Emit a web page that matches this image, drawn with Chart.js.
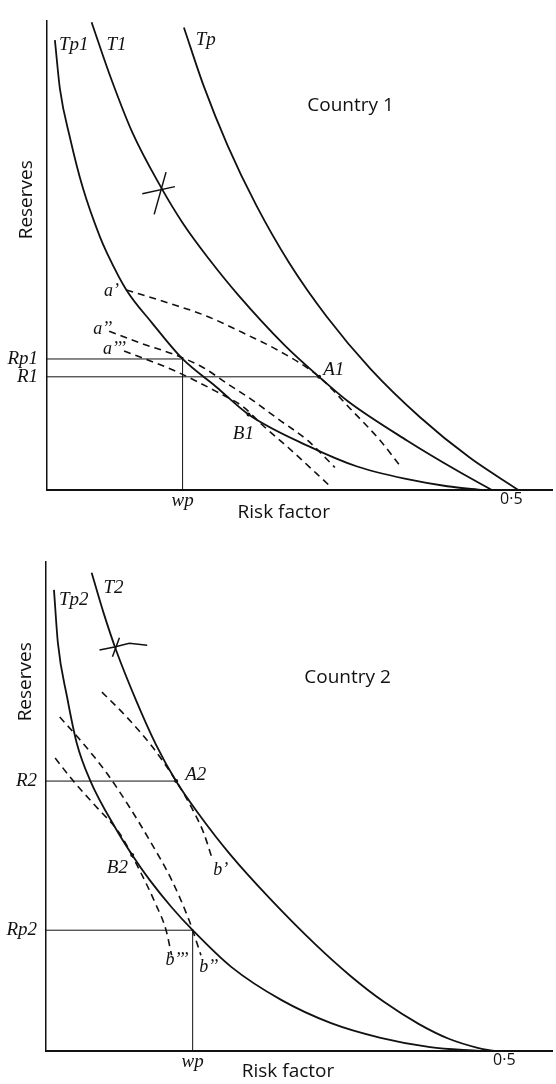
<!DOCTYPE html>
<html>
<head>
<meta charset="utf-8">
<script src="https://cdn.jsdelivr.net/npm/chart.js@4.4.0/dist/chart.umd.min.js"></script>
<style>
  html, body { margin: 0; padding: 0; background: #fff; }
  canvas { position: absolute; left: 0; }
  #country1 { top: 0; }
  #country2 { top: 540px; }
</style>
</head>
<body>
<canvas id="country1" width="556" height="540" style="width:556px;height:540px"></canvas>
<canvas id="country2" width="556" height="544" style="width:556px;height:544px"></canvas>
<script>
// ---- Country 1 (risk factor on x, reserves on y, arbitrary 0-100) ----
const c1TpX  = [0.1474, 0.1688, 0.1944, 0.2254, 0.2607, 0.3013, 0.3483, 0.4017, 0.4551, 0.5075];
const c1TpY  = [98.5, 86.0, 73.4, 60.6, 48.4, 36.9, 25.8, 15.5, 6.9, 0];
const c1T1X  = [0.048, 0.067, 0.092, 0.123, 0.147, 0.174, 0.206, 0.256, 0.293, 0.324, 0.388, 0.441, 0.479];
const c1T1Y  = [99.6, 88.7, 76.1, 64.4, 56.6, 49.3, 41.5, 30.8, 24.1, 18.9, 10.5, 4.2, 0];
const c1Tp1X = [0.0085, 0.014, 0.025, 0.0385, 0.057, 0.065, 0.0855, 0.113, 0.146, 0.182, 0.217, 0.281, 0.334, 0.388, 0.431, 0.470];
const c1Tp1Y = [95.8, 85.3, 74.8, 64.4, 53.9, 50.3, 42.6, 35.6, 27.9, 22.0, 16.1, 9.4, 5.0, 2.3, 0.8, 0];
const c1aX   = [0.0855, 0.131, 0.171, 0.217, 0.252, 0.293, 0.329, 0.359, 0.380];
const c1aY   = [42.6, 39.8, 37.1, 32.9, 29.4, 24.1, 16.8, 10.5, 5.2];
const c1a2X  = [0.067, 0.099, 0.139, 0.167, 0.196, 0.220, 0.249, 0.281, 0.310];
const c1a2Y  = [33.8, 31.4, 28.7, 26.2, 22.4, 19.3, 15.1, 10.5, 4.8];
const c1a3X  = [0.083, 0.135, 0.182, 0.212, 0.231, 0.260, 0.306];
const c1a3Y  = [29.6, 25.6, 21.0, 17.6, 14.0, 9.0, 0.6];
const c1Wp = 0.146, c1Rp = 27.9, c1R = 24.1;
const c1A = [0.293, 24.1], c1B = [0.217, 16.1];
const c1CrossX = [[0.1026, 0.1378], [0.1282, 0.1154]];
const c1CrossY = [[63.1, 64.6], [67.7, 58.7]];

// ---- Country 2 ----
const c2T2X  = [0.0498, 0.0628, 0.0768, 0.0985, 0.1201, 0.1418, 0.1688, 0.2013, 0.2446, 0.2933, 0.3312, 0.3690, 0.4069, 0.4394, 0.4719, 0.4892];
const c2T2Y  = [97.8, 89.6, 81.8, 71.6, 62.6, 55.2, 47.9, 40.1, 31.1, 21.9, 15.5, 10.0, 5.5, 2.5, 0.6, 0];
const c2Tp2X = [0.0087, 0.013, 0.023, 0.0335, 0.048, 0.077, 0.094, 0.113, 0.137, 0.160, 0.202, 0.257, 0.311, 0.365, 0.419, 0.473];
const c2Tp2Y = [94.3, 83.4, 72.4, 63.0, 55.4, 45.2, 40.1, 35.0, 29.4, 24.7, 17.2, 10.4, 5.7, 2.7, 0.8, 0];
const c2bX   = [0.061, 0.088, 0.116, 0.142, 0.159, 0.172, 0.181];
const c2bY   = [73.4, 68.3, 62.2, 55.2, 49.7, 44.6, 39.5];
const c2b2X  = [0.015, 0.040, 0.066, 0.091, 0.113, 0.137, 0.156, 0.160, 0.169];
const c2b2Y  = [68.3, 63.0, 56.9, 49.9, 43.1, 35.0, 26.8, 24.7, 19.6];
const c2b3X  = [0.010, 0.029, 0.055, 0.080, 0.102, 0.120, 0.131, 0.137];
const c2b3Y  = [59.9, 55.4, 49.9, 44.6, 37.0, 29.9, 24.7, 19.6];
const c2Wp = 0.160, c2Rp = 24.7, c2R = 55.2;
const c2A = [0.142, 55.2], c2B = [0.094, 40.1];
const c2CrossX = [[0.0584, 0.0747, 0.0909, 0.1104], [0.0801, 0.0725]];
const c2CrossY = [[82.0, 82.6, 83.4, 83.0], [84.5, 80.6]];

const INK = '#111';
const SERIF = '"Liberation Serif", serif';
const SANS = '"Open Sans", sans-serif';

const pts = (xs, ys) => xs.map((x, i) => ({ x: x, y: ys[i] }));

const curve = (xs, ys, dashed) => ({
    data: pts(xs, ys),
    showLine: true,
    borderColor: INK,
    borderWidth: dashed ? 1.6 : 1.8,
    borderDash: dashed ? [7, 5] : [],
    pointRadius: 0,
    cubicInterpolationMode: 'monotone',
    clip: 4
});

const guide = (xs, ys, w) => ({
    data: pts(xs, ys),
    showLine: true,
    borderColor: INK,
    borderWidth: w || 1,
    pointRadius: 0,
    tension: 0
});

const dots = (list) => ({
    data: list.map(p => ({ x: p[0], y: p[1] })),
    showLine: false, pointRadius: 2, pointBackgroundColor: INK, pointBorderWidth: 0
});

// text labels drawn through the chart's own scales
const notesPlugin = {
    id: 'notes',
    afterDraw(chart, args, opts) {
        const ctx = chart.ctx, xs = chart.scales.x, ys = chart.scales.y, area = chart.chartArea;
        ctx.save();
        ctx.fillStyle = INK;
        ctx.textBaseline = 'middle';
        ctx.textAlign = 'center';
        opts.items.forEach(n => {
            ctx.font = n.font;
            ctx.fillText(n.text, xs.getPixelForValue(n.x), ys.getPixelForValue(n.y));
        });
        // axis titles
        ctx.font = '19px ' + SANS;
        ctx.fillText('Risk factor', xs.getPixelForValue(opts.xTitleAt), area.bottom + opts.xTitleGap);
        ctx.translate(area.left - 20, ys.getPixelForValue(opts.yTitleAt));
        ctx.rotate(-Math.PI / 2);
        ctx.fillText('Reserves', 0, 0);
        ctx.restore();
    }
};

function makeChart(id, o) {
    return new Chart(document.getElementById(id), {
        type: 'scatter',
        data: { datasets: o.datasets },
        plugins: [notesPlugin],
        options: {
            responsive: false,
            animation: false,
            layout: { padding: { top: o.top, left: 0, right: 0, bottom: 0 } },
            plugins: {
                legend: { display: false },
                tooltip: { enabled: false },
                notes: { items: o.notes, xTitleAt: o.xTitleAt, xTitleGap: o.xTitleGap, yTitleAt: o.yTitleAt }
            },
            scales: {
                x: {
                    type: 'linear', min: 0, max: o.xMax,
                    grid: { display: false, drawTicks: false },
                    border: { color: INK, width: 2 },
                    afterBuildTicks: s => { s.ticks = [{ value: o.wp }, { value: 0.5 }]; },
                    afterFit: s => { s.height = o.xHeight; },
                    ticks: {
                        autoSkip: false, maxRotation: 0, padding: 0, color: INK,
                        callback: v => (v === 0.5 ? '0·5' : 'wp'),
                        font: c => (c.tick && c.tick.value === 0.5)
                            ? { family: SANS, size: 16 }
                            : { family: SERIF, size: 19, style: 'italic' }
                    }
                },
                y: {
                    type: 'linear', min: 0, max: 100,
                    grid: { display: false, drawTicks: false },
                    border: { color: INK, width: 1.5 },
                    afterBuildTicks: s => { s.ticks = [{ value: o.r }, { value: o.rp }]; },
                    afterFit: s => { s.width = o.yWidth; },
                    ticks: {
                        autoSkip: false, padding: 9, color: INK,
                        callback: v => (v === o.r ? o.rLabel : o.rpLabel),
                        font: { family: SERIF, size: 19, style: 'italic' }
                    }
                }
            }
        }
    });
}

const lbl = 'italic 19px ' + SERIF, small = 'italic 18px ' + SERIF;

makeChart('country1', {
    top: 13, xHeight: 50, yWidth: 47, xMax: 0.5438,
    wp: c1Wp, r: c1R, rp: c1Rp, rLabel: 'R1', rpLabel: 'Rp1',
    xTitleAt: 0.255, xTitleGap: 23, yTitleAt: 61.8,
    datasets: [
        curve(c1TpX, c1TpY), curve(c1T1X, c1T1Y), curve(c1Tp1X, c1Tp1Y),
        curve(c1aX, c1aY, true), curve(c1a2X, c1a2Y, true), curve(c1a3X, c1a3Y, true),
        guide([0, c1Wp], [c1Rp, c1Rp]), guide([c1Wp, c1Wp], [0, c1Rp]), guide([0, c1A[0]], [c1R, c1R]),
        guide(c1CrossX[0], c1CrossY[0], 1.5), guide(c1CrossX[1], c1CrossY[1], 1.5),
        dots([c1A, c1B])
    ],
    notes: [
        { text: 'Tp1', x: 0.0288, y: 94.8, font: lbl },
        { text: 'T1', x: 0.0748, y: 94.8, font: lbl },
        { text: 'Tp', x: 0.1709, y: 95.8, font: lbl },
        { text: 'Country 1', x: 0.3269, y: 81.8, font: '19px ' + SANS },
        { text: 'a’', x: 0.0694, y: 42.3, font: small },
        { text: 'a’’', x: 0.0601, y: 34.2, font: small },
        { text: 'a’’’', x: 0.0726, y: 30.0, font: small },
        { text: 'A1', x: 0.3088, y: 25.6, font: lbl },
        { text: 'B1', x: 0.2115, y: 11.9, font: lbl }
    ]
});

makeChart('country2', {
    top: 22, xHeight: 33, yWidth: 46, xMax: 0.552,
    wp: c2Wp, r: c2R, rp: c2Rp, rLabel: 'R2', rpLabel: 'Rp2',
    xTitleAt: 0.264, xTitleGap: 21, yTitleAt: 75.5,
    datasets: [
        curve(c2T2X, c2T2Y), curve(c2Tp2X, c2Tp2Y),
        curve(c2bX, c2bY, true), curve(c2b2X, c2b2Y, true), curve(c2b3X, c2b3Y, true),
        guide([0, c2A[0]], [c2R, c2R]), guide([0, c2Wp], [c2Rp, c2Rp]), guide([c2Wp, c2Wp], [0, c2Rp]),
        guide(c2CrossX[0], c2CrossY[0], 1.5), guide(c2CrossX[1], c2CrossY[1], 1.5),
        dots([c2A, c2B])
    ],
    notes: [
        { text: 'Tp2', x: 0.0303, y: 92.2, font: lbl },
        { text: 'T2', x: 0.0736, y: 94.7, font: lbl },
        { text: 'Country 2', x: 0.3290, y: 76.3, font: '19px ' + SANS },
        { text: 'A2', x: 0.1634, y: 56.4, font: lbl },
        { text: 'B2', x: 0.0779, y: 37.4, font: lbl },
        { text: 'b’', x: 0.1905, y: 37.0, font: small },
        { text: 'b’’', x: 0.1775, y: 17.2, font: small },
        { text: 'b’’’', x: 0.1429, y: 18.6, font: small }
    ]
});
</script>
</body>
</html>
